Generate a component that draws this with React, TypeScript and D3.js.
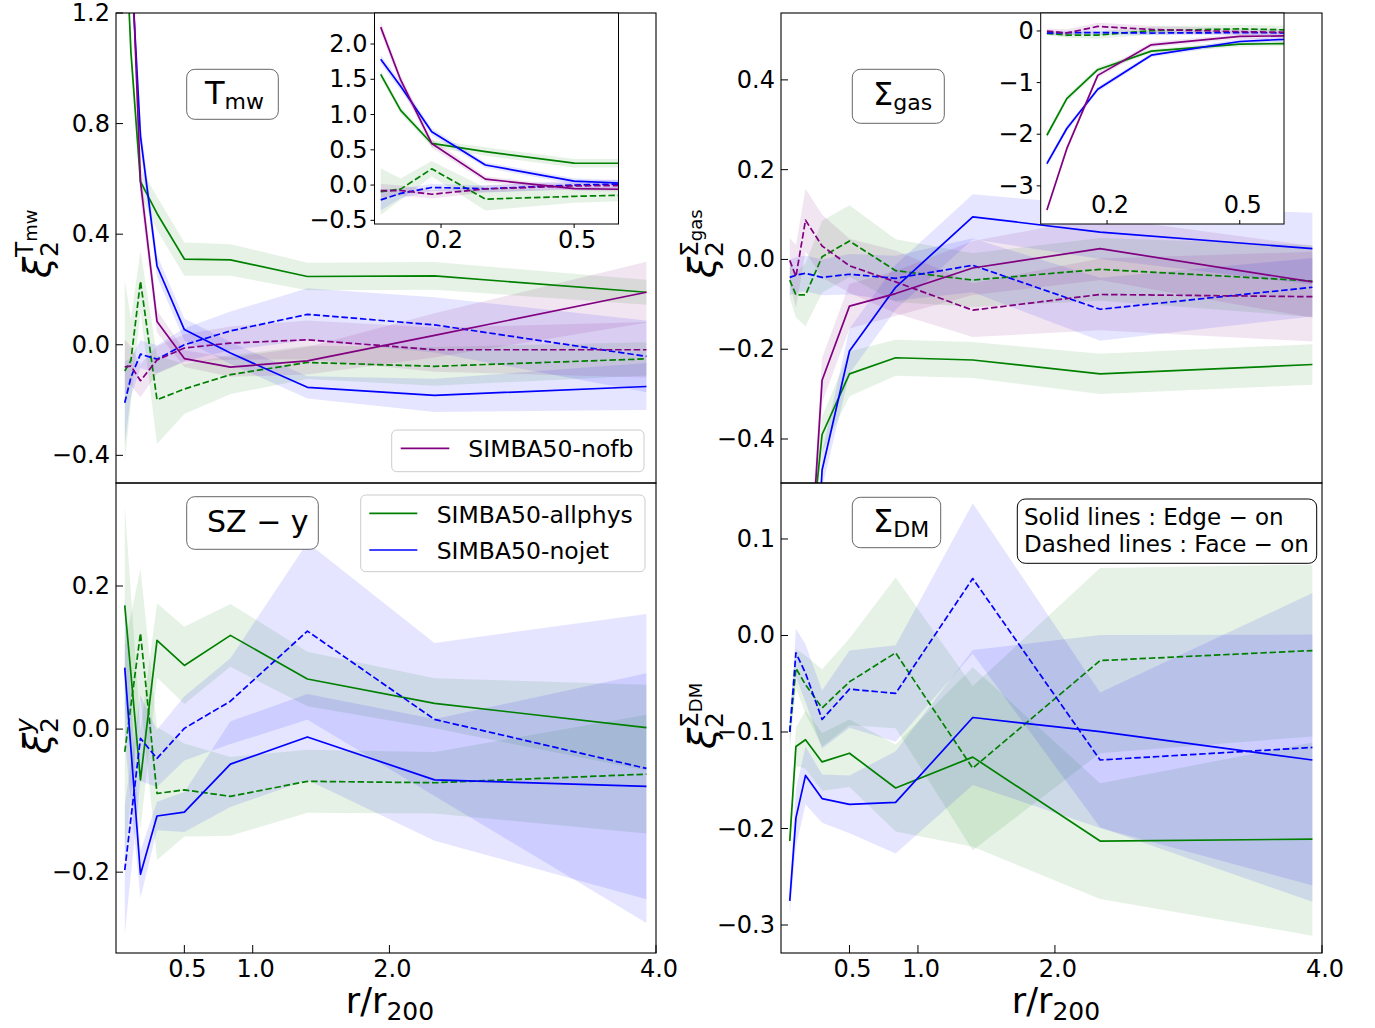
import React from 'react';
import * as d3 from 'd3';

const GREEN = '#008000';
const BLUE = '#0000ff';
const PURPLE = '#800080';
const FONT = "'DejaVu Sans', 'Noto Sans', sans-serif";

// radial bins r/r200
const radiusBins = [0.064, 0.109, 0.179, 0.3, 0.5, 0.837, 1.4, 2.33, 3.88];
const radiusBinsSZ = [0.064, 0.179, 0.3, 0.5, 0.837, 1.4, 2.33, 3.88];

const xTickValues = [0.5, 1.0, 2.0, 3.95];
const xTickLabels = ['0.5', '1.0', '2.0', '4.0'];
const insetXTickValues = [0.2, 0.5];
const insetXTickLabels = ['0.2', '0.5'];

const tmwYTicks = [-0.4, 0.0, 0.4, 0.8, 1.2];
const gasYTicks = [-0.4, -0.2, 0.0, 0.2, 0.4];
const szYTicks = [-0.2, 0.0, 0.2];
const dmYTicks = [-0.3, -0.2, -0.1, 0.0, 0.1];
const tmwInsetYTicks = [-0.5, 0.0, 0.5, 1.0, 1.5, 2.0];
const gasInsetYTicks = [-3, -2, -1, 0];

// ---- T_mw ----
const tmwAllphysEdge = [1.57, 1.06, 0.59, 0.475, 0.31, 0.307, 0.247, 0.249, 0.19];
const tmwAllphysEdgeErr = [0.05, 0.05, 0.05, 0.06, 0.06, 0.057, 0.05, 0.05, 0.045];
const tmwNojetEdge = [1.785, 1.4, 0.755, 0.285, 0.055, -0.03, -0.154, -0.183, -0.151];
const tmwNojetEdgeErr = [0.06, 0.06, 0.05, 0.04, 0.04, 0.04, 0.04, 0.06, 0.085];
const tmwNofbEdge = [2.24, 1.49, 0.59, 0.084, -0.05, -0.081, -0.058, 0.034, 0.19];
const tmwNofbEdgeErr = [0.08, 0.07, 0.06, 0.04, 0.03, 0.035, 0.05, 0.08, 0.11];
const tmwAllphysFace = [-0.095, -0.057, 0.23, -0.199, -0.16, -0.108, -0.064, -0.078, -0.051];
const tmwAllphysFaceErr = [0.33, 0.15, 0.11, 0.16, 0.09, 0.07, 0.06, 0.07, 0.06];
const tmwNojetFace = [-0.21, -0.118, -0.034, -0.052, 0.0, 0.05, 0.11, 0.072, -0.042];
const tmwNojetFaceErr = [0.15, 0.07, 0.05, 0.05, 0.06, 0.07, 0.094, 0.1, 0.13];
const tmwNofbFace = [-0.08, -0.077, -0.13, -0.055, -0.012, 0.006, 0.018, -0.018, -0.018];
const tmwNofbFaceErr = [0.1, 0.07, 0.06, 0.05, 0.05, 0.06, 0.07, 0.08, 0.1];

// ---- Sigma_gas ----
const gasAllphysEdge = [-2.02, -1.31, -0.75, -0.39, -0.255, -0.219, -0.224, -0.255, -0.234];
const gasAllphysEdgeErr = [0.06, 0.06, 0.05, 0.04, 0.05, 0.04, 0.04, 0.045, 0.045];
const gasNojetEdge = [-2.57, -1.89, -1.13, -0.469, -0.204, -0.062, 0.095, 0.061, 0.024];
const gasNojetEdgeErr = [0.06, 0.06, 0.05, 0.04, 0.05, 0.05, 0.05, 0.06, 0.08];
const gasNofbEdge = [-3.47, -2.28, -0.86, -0.269, -0.104, -0.076, -0.019, 0.024, -0.05];
const gasNofbEdgeErr = [0.06, 0.06, 0.05, 0.05, 0.05, 0.05, 0.06, 0.07, 0.08];
const gasAllphysFace = [-0.046, -0.079, -0.079, 0.006, 0.041, -0.025, -0.046, -0.022, -0.048];
const gasAllphysFaceErr = [0.04, 0.05, 0.07, 0.08, 0.08, 0.07, 0.06, 0.07, 0.08];
const gasNojetFace = [-0.04, -0.035, -0.031, -0.04, -0.033, -0.042, -0.013, -0.111, -0.062];
const gasNojetFaceErr = [0.04, 0.04, 0.04, 0.04, 0.045, 0.05, 0.06, 0.07, 0.065];
const gasNofbFace = [-0.002, -0.038, 0.0875, 0.03, -0.014, -0.05, -0.113, -0.078, -0.083];
const gasNofbFaceErr = [0.05, 0.07, 0.07, 0.07, 0.06, 0.07, 0.06, 0.08, 0.1];

// ---- SZ-y ----
const szAllphysEdge = [0.173, -0.071, 0.124, 0.089, 0.131, 0.07, 0.036, 0.002];
const szAllphysEdgeErr = [0.14, 0.07, 0.052, 0.054, 0.044, 0.038, 0.035, 0.06];
const szAllphysFace = [-0.032, 0.134, -0.09, -0.085, -0.094, -0.073, -0.075, -0.063];
const szAllphysFaceErr = [0.15, 0.09, 0.093, 0.065, 0.055, 0.044, 0.043, 0.083];
const szNojetEdge = [0.086, -0.203, -0.1215, -0.116, -0.049, -0.011, -0.071, -0.08];
const szNojetEdgeErr = [0.1, 0.033, 0.02, 0.028, 0.06, 0.06, 0.085, 0.158];
const szNojetFace = [-0.197, -0.013, -0.041, 0.001, 0.039, 0.137, 0.0135, -0.055];
const szNojetFaceErr = [0.09, 0.06, 0.04, 0.045, 0.06, 0.124, 0.107, 0.216];

// ---- Sigma_DM ----
const dmAllphysEdge = [-0.213, -0.115, -0.108, -0.131, -0.122, -0.158, -0.126, -0.213, -0.211];
const dmAllphysEdgeErr = [0.01, 0.02, 0.03, 0.03, 0.035, 0.045, 0.093, 0.06, 0.1];
const dmNojetEdge = [-0.275, -0.189, -0.145, -0.169, -0.175, -0.173, -0.085, -0.0996, -0.129];
const dmNojetEdgeErr = [0.015, 0.03, 0.03, 0.025, 0.03, 0.053, 0.07, 0.1, 0.13];
const dmAllphysFace = [-0.1, -0.034, -0.051, -0.075, -0.048, -0.018, -0.1375, -0.026, -0.0156];
const dmAllphysFaceErr = [0.02, 0.02, 0.03, 0.04, 0.045, 0.078, 0.085, 0.096, 0.089];
const dmNojetFace = [-0.1, -0.018, -0.039, -0.087, -0.0556, -0.06, 0.059, -0.129, -0.116];
const dmNojetFaceErr = [0.01, 0.025, 0.03, 0.03, 0.04, 0.05, 0.078, 0.07, 0.16];

type Series = { color: string; dashed: boolean; ys: number[]; err: number[] };

const mk = (color: string, dashed: boolean, ys: number[], err: number[]): Series => ({ color, dashed, ys, err });

const tmwSeries: Series[] = [
  mk(GREEN, false, tmwAllphysEdge, tmwAllphysEdgeErr),
  mk(GREEN, true, tmwAllphysFace, tmwAllphysFaceErr),
  mk(BLUE, false, tmwNojetEdge, tmwNojetEdgeErr),
  mk(BLUE, true, tmwNojetFace, tmwNojetFaceErr),
  mk(PURPLE, false, tmwNofbEdge, tmwNofbEdgeErr),
  mk(PURPLE, true, tmwNofbFace, tmwNofbFaceErr),
];
const gasSeries: Series[] = [
  mk(GREEN, false, gasAllphysEdge, gasAllphysEdgeErr),
  mk(GREEN, true, gasAllphysFace, gasAllphysFaceErr),
  mk(BLUE, false, gasNojetEdge, gasNojetEdgeErr),
  mk(BLUE, true, gasNojetFace, gasNojetFaceErr),
  mk(PURPLE, false, gasNofbEdge, gasNofbEdgeErr),
  mk(PURPLE, true, gasNofbFace, gasNofbFaceErr),
];
const szSeries: Series[] = [
  mk(GREEN, false, szAllphysEdge, szAllphysEdgeErr),
  mk(GREEN, true, szAllphysFace, szAllphysFaceErr),
  mk(BLUE, false, szNojetEdge, szNojetEdgeErr),
  mk(BLUE, true, szNojetFace, szNojetFaceErr),
];
const dmSeries: Series[] = [
  mk(GREEN, false, dmAllphysEdge, dmAllphysEdgeErr),
  mk(GREEN, true, dmAllphysFace, dmAllphysFaceErr),
  mk(BLUE, false, dmNojetEdge, dmNojetEdgeErr),
  mk(BLUE, true, dmNojetFace, dmNojetFaceErr),
];

type InsetSpec = {
  left: number; right: number; top: number; bottom: number;
  xDomain: [number, number]; yDomain: [number, number];
  yTicks: number[]; yFmt: string; labelsInside: boolean;
};
type PanelSpec = {
  key: string; left: number; right: number; top: number; bottom: number;
  yDomain: [number, number]; yTicks: number[]; xs: number[]; series: Series[];
  xAxis: boolean; inset?: InsetSpec;
};

const panels: PanelSpec[] = [
  {
    key: 'tmw', left: 116, right: 656, top: 13, bottom: 483, yDomain: [-0.5, 1.2], yTicks: tmwYTicks,
    xs: radiusBins, series: tmwSeries, xAxis: false,
    inset: { left: 374.5, right: 618.5, top: 13, bottom: 224, xDomain: [0.05, 0.6], yDomain: [-0.552, 2.44], yTicks: tmwInsetYTicks, yFmt: '.1f', labelsInside: false },
  },
  {
    key: 'gas', left: 781, right: 1322, top: 13, bottom: 483, yDomain: [-0.498, 0.549], yTicks: gasYTicks,
    xs: radiusBins, series: gasSeries, xAxis: false,
    inset: { left: 1040.7, right: 1284, top: 13, bottom: 224, xDomain: [0.05, 0.6], yDomain: [-3.739, 0.348], yTicks: gasInsetYTicks, yFmt: 'd', labelsInside: true },
  },
  { key: 'sz', left: 116, right: 656, top: 483, bottom: 953, yDomain: [-0.313, 0.344], yTicks: szYTicks, xs: radiusBinsSZ, series: szSeries, xAxis: true },
  { key: 'dm', left: 781, right: 1322, top: 483, bottom: 953, yDomain: [-0.329, 0.158], yTicks: dmYTicks, xs: radiusBins, series: dmSeries, xAxis: true },
];

const X_DOMAIN: [number, number] = [0, 3.95];

function Curves({ series, xs, x, y, clipId }: { series: Series[]; xs: number[]; x: any; y: any; clipId: string }) {
  return (
    <g clipPath={`url(#${clipId})`}>
      {series.map((s, k) => {
        const area = d3.area<number>()
          .x((_, i) => x(xs[i]))
          .y0((d, i) => y(d - s.err[i]))
          .y1((d, i) => y(d + s.err[i]));
        return <path key={'a' + k} d={area(s.ys) || ''} fill={s.color} fillOpacity={0.1} stroke="none" />;
      })}
      {series.map((s, k) => {
        const line = d3.line<number>().x((_, i) => x(xs[i])).y((d) => y(d));
        return (
          <path key={'l' + k} d={line(s.ys) || ''} fill="none" stroke={s.color} strokeWidth={1.7}
            strokeDasharray={s.dashed ? '6.5,2.8' : undefined} strokeLinejoin="round" />
        );
      })}
    </g>
  );
}

function Inset({ spec, p }: { spec: InsetSpec; p: PanelSpec }) {
  const x = d3.scaleLinear().domain(spec.xDomain).range([spec.left, spec.right]);
  const y = d3.scaleLinear().domain(spec.yDomain).range([spec.bottom, spec.top]);
  const clipId = `clip-inset-${p.key}`;
  const fmt = d3.format(spec.yFmt);
  return (
    <g>
      <defs>
        <clipPath id={clipId}>
          <rect x={spec.left} y={spec.top} width={spec.right - spec.left} height={spec.bottom - spec.top} />
        </clipPath>
      </defs>
      <rect x={spec.left} y={spec.top} width={spec.right - spec.left} height={spec.bottom - spec.top} fill="#fff" />
      <Curves series={p.series} xs={p.xs} x={x} y={y} clipId={clipId} />
      <rect x={spec.left} y={spec.top} width={spec.right - spec.left} height={spec.bottom - spec.top} fill="none" stroke="#000" strokeWidth={1} />
      {spec.yTicks.map((t) => (
        <g key={'iy' + t}>
          <line x1={spec.left - 4} x2={spec.left} y1={y(t)} y2={y(t)} stroke="#000" strokeWidth={1} />
          <text x={spec.left - 7} y={y(t)} textAnchor="end" dominantBaseline="central" fontSize={24} fontFamily={FONT}>{fmt(t)}</text>
        </g>
      ))}
      {insetXTickValues.map((t, i) => (
        <g key={'ix' + t}>
          <line x1={x(t)} x2={x(t)} y1={spec.bottom} y2={spec.labelsInside ? spec.bottom - 4 : spec.bottom + 4} stroke="#000" strokeWidth={1} />
          <text x={x(t) + 3} y={spec.labelsInside ? spec.bottom - 11 : spec.bottom + 24} textAnchor="middle" fontSize={24} fontFamily={FONT}>{insetXTickLabels[i]}</text>
        </g>
      ))}
    </g>
  );
}

function Panel({ p }: { p: PanelSpec }) {
  const x = d3.scaleLinear().domain(X_DOMAIN).range([p.left, p.right]);
  const y = d3.scaleLinear().domain(p.yDomain).range([p.bottom, p.top]);
  const clipId = `clip-${p.key}`;
  const fmt = d3.format('.1f');
  return (
    <g>
      <defs>
        <clipPath id={clipId}>
          <rect x={p.left} y={p.top} width={p.right - p.left} height={p.bottom - p.top} />
        </clipPath>
      </defs>
      <Curves series={p.series} xs={p.xs} x={x} y={y} clipId={clipId} />
      <rect x={p.left} y={p.top} width={p.right - p.left} height={p.bottom - p.top} fill="none" stroke="#000" strokeWidth={1.1} />
      {p.yTicks.map((t) => (
        <g key={'y' + t}>
          <line x1={p.left} x2={p.left + 7} y1={y(t)} y2={y(t)} stroke="#000" strokeWidth={1} />
          <text x={p.left - 6} y={y(t)} textAnchor="end" dominantBaseline="central" fontSize={24} fontFamily={FONT}>{fmt(t)}</text>
        </g>
      ))}
      {p.xAxis && xTickValues.map((t, i) => (
        <g key={'x' + t}>
          <line x1={x(t)} x2={x(t)} y1={p.bottom} y2={p.bottom - 8} stroke="#000" strokeWidth={1} />
          <text x={x(t) + 3} y={p.bottom + 24} textAnchor="middle" fontSize={24} fontFamily={FONT}>{xTickLabels[i]}</text>
        </g>
      ))}
      {p.inset && <Inset spec={p.inset} p={p} />}
    </g>
  );
}

function LabelBox({ x, y, w, h, children, stroke = '#666' }: any) {
  return (
    <g>
      <rect x={x} y={y} width={w} height={h} rx={8} ry={8} fill="#fff" stroke={stroke} strokeWidth={1} />
      {children}
    </g>
  );
}

function YLabel({ cx, cy, sup }: { cx: number; cy: number; sup: React.ReactNode }) {
  return (
    <g transform={`translate(${cx},${cy}) rotate(-90)`} fontFamily={FONT}>
      <text x={-36} y={0} fontSize={38} fontStyle="italic">ξ</text>
      <text x={-15} y={8} fontSize={25}>2</text>
      <text x={-15} y={-17} fontSize={25}>{sup}</text>
    </g>
  );
}

export default function App() {
  return (
    <svg width={1375} height={1028} viewBox="0 0 1375 1028"
      style={{ position: 'absolute', left: 0, top: 0, background: '#fff' }} fontFamily={FONT}>
      <rect x={0} y={0} width={1375} height={1028} fill="#fff" />
      {panels.map((p) => <Panel key={p.key} p={p} />)}

      {/* panel labels */}
      <LabelBox x={186.7} y={69.3} w={91.6} h={50}>
        <text x={205} y={104} fontSize={32}>T<tspan fontSize={22} dy={5}>mw</tspan></text>
      </LabelBox>
      <LabelBox x={852.3} y={69.3} w={92} h={54}>
        <text x={873} y={105} fontSize={32}>Σ<tspan fontSize={22} dy={5}>gas</tspan></text>
      </LabelBox>
      <LabelBox x={186.7} y={496.7} w={131.6} h={52.6}>
        <text x={207} y={532} fontSize={30}>SZ − y</text>
      </LabelBox>
      <LabelBox x={852.3} y={497.3} w={88.4} h={50.4}>
        <text x={873} y={532} fontSize={32}>Σ<tspan fontSize={22} dy={5}>DM</tspan></text>
      </LabelBox>
      <LabelBox x={1017.3} y={499} w={299.4} h={64.3} stroke="#000">
        <text x={1024} y={525} fontSize={23}>Solid lines : Edge − on</text>
        <text x={1024} y={552} fontSize={23}>Dashed lines : Face − on</text>
      </LabelBox>

      {/* legends */}
      <rect x={391.7} y={430} width={252.3} height={41.7} rx={5} fill="#fff" fillOpacity={0.8} stroke="#ccc" />
      <line x1={400.7} x2={449.3} y1={448.3} y2={448.3} stroke={PURPLE} strokeWidth={1.7} />
      <text x={468.3} y={457} fontSize={23.5}>SIMBA50-nofb</text>

      <rect x={360.7} y={495} width={284.3} height={76.7} rx={5} fill="#fff" fillOpacity={0.8} stroke="#ccc" />
      <line x1={369.3} x2={417.3} y1={513.3} y2={513.3} stroke={GREEN} strokeWidth={1.7} />
      <text x={436.7} y={522.5} fontSize={23.5}>SIMBA50-allphys</text>
      <line x1={369.3} x2={417.3} y1={550} y2={550} stroke={BLUE} strokeWidth={1.7} />
      <text x={436.7} y={559} fontSize={23.5}>SIMBA50-nojet</text>

      {/* y labels */}
      <YLabel cx={50} cy={242} sup={<>T<tspan fontSize={18} dy={4}>mw</tspan></>} />
      <YLabel cx={50} cy={718} sup={<tspan fontStyle="italic">y</tspan>} />
      <YLabel cx={715} cy={242} sup={<>Σ<tspan fontSize={18} dy={4}>gas</tspan></>} />
      <YLabel cx={715} cy={713} sup={<>Σ<tspan fontSize={18} dy={4}>DM</tspan></>} />

      {/* x labels */}
      <text x={390} y={1013} textAnchor="middle" fontSize={35}>r/r<tspan fontSize={25} dy={7}>200</tspan></text>
      <text x={1056} y={1013} textAnchor="middle" fontSize={35}>r/r<tspan fontSize={25} dy={7}>200</tspan></text>
    </svg>
  );
}
